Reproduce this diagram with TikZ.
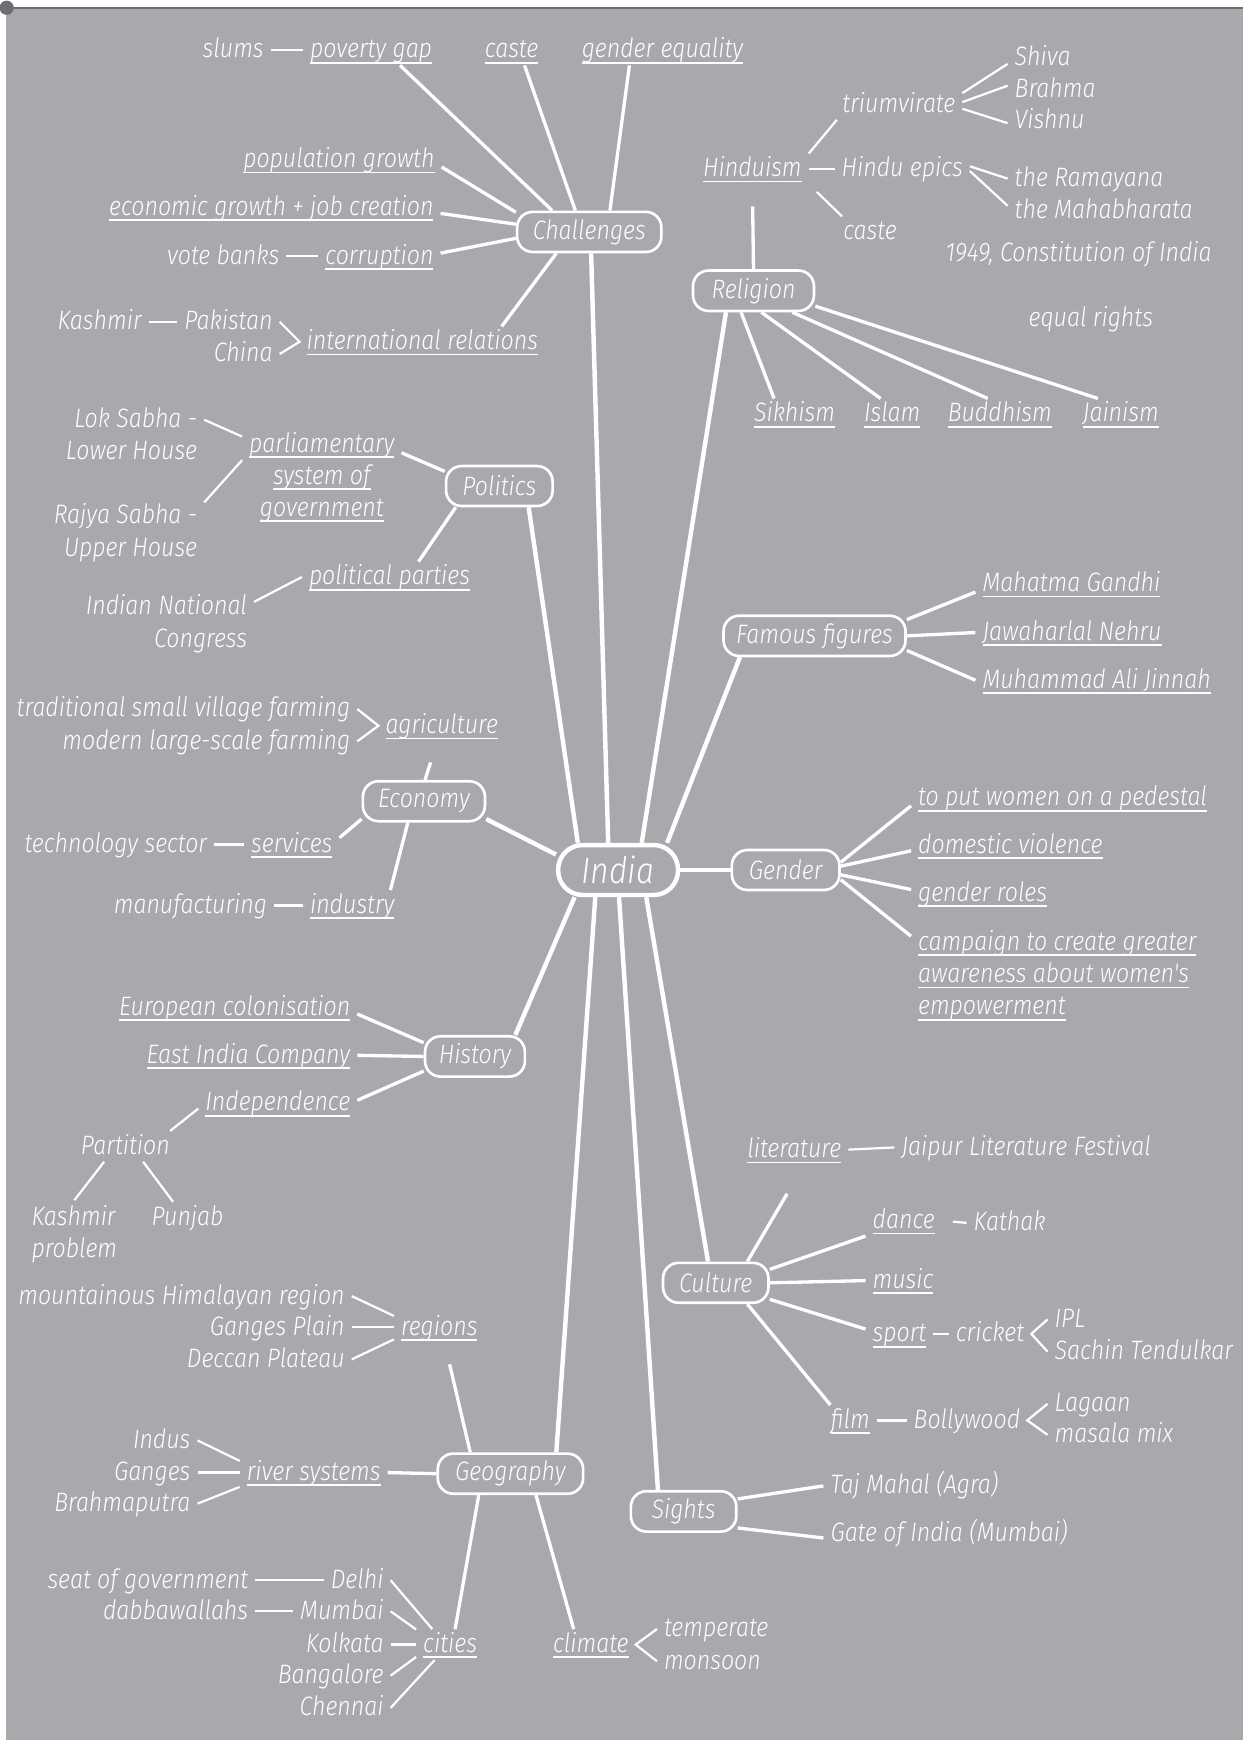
\documentclass[tikz,border=0pt]{standalone}
\usepackage{fontspec}
\IfFontExistsTF{Fira Sans Light Italic}
  {\newfontfamily\mapfam{Fira Sans Light Italic}[FakeStretch=0.87]\let\mapshape\relax}
  {\newfontfamily\mapfam{Fira Sans}[FakeStretch=0.87]\let\mapshape\itshape}
\newcommand\mapfont{\mapfam\mapshape\fontsize{12}{14.5}\selectfont}
\newcommand\hubfont{\mapfam\mapshape\fontsize{16.5}{19}\selectfont}
\newcommand\ulbox[1]{\setbox0=\hbox{#1}\rlap{\rule[-2.6pt]{\wd0}{0.8pt}}\box0}
\usepackage{tikz}
\definecolor{mapgrey}{RGB}{167,169,172}
\definecolor{edgegrey}{RGB}{109,110,113}

\begin{document}
\begin{tikzpicture}[
  x=0.5pt, y=-0.5pt,
  hub/.style={draw=white, line width=2pt, rounded corners=11pt, minimum width=54pt,
              minimum height=22.5pt, text=white, font=\hubfont},
  topic/.style={draw=white, line width=1.2pt, rounded corners=7pt, minimum height=18pt,
                text=white, font=\mapfont},
  leaf/.style={text=white, font=\mapfont, inner xsep=3pt, inner ysep=2pt,
               text height=8.3pt, text depth=1.2pt},
  leafml/.style={text=white, font=\mapfont, inner xsep=3pt, inner ysep=2pt},
  trunk/.style={draw=white, line width=2pt},
  twig/.style={draw=white, line width=1.5pt},
  tie/.style={draw=white, line width=1pt},
]
\useasboundingbox (0,0) rectangle (1120,1568);
\fill[white] (0,0) rectangle (1120,1568);
\fill[mapgrey] (5,7) rectangle (1120,1568);
\draw[edgegrey, line width=1pt] (0,7) -- (1120,7);
\fill[edgegrey] (6,7) circle (3.2pt);

% centre and main topics
\node[hub] (india) at (557,784) {India};
\node[topic, minimum width=65pt] (chal) at (531,209) {Challenges};
\node[topic, minimum width=54.5pt] (relig) at (679,262) {Religion};
\node[topic, minimum width=48pt] (polit) at (450,438) {Politics};
\node[topic, minimum width=82pt] (famous) at (734,573) {Famous figures};
\node[topic, minimum width=55pt] (econ) at (382,722) {Economy};
\node[topic, minimum width=48.5pt] (gender) at (708,784) {Gender};
\node[topic, minimum width=45pt] (hist) at (428,952) {History};
\node[topic, minimum width=47.5pt] (cult) at (645,1156) {Culture};
\node[topic, minimum width=65.5pt] (geog) at (460,1328) {Geography};
\node[topic, minimum width=47.5pt] (sights) at (616,1362) {Sights};

% challenges
\node[leaf, anchor=east] (slums) at (244,45) {slums};
\node[leaf, anchor=west] (povgap) at (273,45) {\ulbox{poverty gap}};
\node[leaf] (caste) at (461,45) {\ulbox{caste}};
\node[leaf] (geneq) at (597,45) {\ulbox{gender equality}};
\node[leaf, anchor=east] (popgrow) at (398,144) {\ulbox{population growth}};
\node[leaf, anchor=east] (econgrow) at (397,187) {\ulbox{economic growth + job creation}};
\node[leaf, anchor=east] (votebank) at (258,231) {vote banks};
\node[leaf, anchor=east] (corrupt) at (397,231) {\ulbox{corruption}};
\node[leaf, anchor=east] (kashmir) at (134,290) {Kashmir};
\node[leaf, anchor=east] (pakistan) at (252,290) {Pakistan};
\node[leaf, anchor=east] (china) at (252,319) {China};
\node[leaf, anchor=west] (intrel) at (270,308) {\ulbox{international relations}};

% religion
\node[leaf] (hindu) at (678,152) {\ulbox{Hinduism}};
\node[leaf] (trium) at (810,94) {triumvirate};
\node[leaf, anchor=west] (shiva) at (908,52) {Shiva};
\node[leaf, anchor=west] (brahma) at (908,81) {Brahma};
\node[leaf, anchor=west] (vishnu) at (908,109) {Vishnu};
\node[leaf] (epics) at (813,152) {Hindu epics};
\node[leaf, anchor=west] (rama) at (908,161) {the Ramayana};
\node[leaf, anchor=west] (maha) at (908,190) {the Mahabharata};
\node[leaf] (caste2) at (784,209) {caste};
\node[leaf] (constit) at (972,229) {1949, Constitution of India};
\node[leaf] (eqrights) at (983,287) {equal rights};
\node[leaf] (sikh) at (716,373) {\ulbox{Sikhism}};
\node[leaf] (islam) at (804,373) {\ulbox{Islam}};
\node[leaf] (bud) at (901,373) {\ulbox{Buddhism}};
\node[leaf] (jain) at (1010,373) {\ulbox{Jainism}};

% politics
\node[leafml, anchor=east, align=right] (lok) at (184,391) {Lok Sabha -\\Lower House};
\node[leafml, anchor=east, align=right] (rajya) at (184,480) {Rajya Sabha -\\Upper House};
\node[leafml, align=center] (parl) at (290,430)
  {\ulbox{parliamentary}\\\ulbox{system of}\\\ulbox{government}};
\node[leaf] (polpart) at (351,520) {\ulbox{political parties}};
\node[leafml, anchor=east, align=right] (inc) at (229,562) {Indian National\\Congress};

% economy
\node[leaf, anchor=east] (trad) at (322,639) {traditional small village farming};
\node[leaf, anchor=east] (modern) at (322,668) {modern large-scale farming};
\node[leaf, anchor=west] (agri) at (341,654) {\ulbox{agriculture}};
\node[leaf, anchor=east] (tech) at (193,761) {technology sector};
\node[leaf, anchor=west] (serv) at (220,761) {\ulbox{services}};
\node[leaf, anchor=east] (manuf) at (247,816) {manufacturing};
\node[leaf, anchor=west] (ind) at (273,816) {\ulbox{industry}};

% famous figures
\node[leaf, anchor=west] (gandhi) at (879,526) {\ulbox{Mahatma Gandhi}};
\node[leaf, anchor=west] (nehru) at (879,570) {\ulbox{Jawaharlal Nehru}};
\node[leaf, anchor=west] (jinnah) at (879,613) {\ulbox{Muhammad Ali Jinnah}};

% gender
\node[leaf, anchor=west] (ped) at (821,719) {\ulbox{to put women on a pedestal}};
\node[leaf, anchor=west] (dom) at (821,762) {\ulbox{domestic violence}};
\node[leaf, anchor=west] (roles) at (821,805) {\ulbox{gender roles}};
\node[leafml, anchor=west, align=left] (camp) at (821,879)
  {\ulbox{campaign to create greater}\\\ulbox{awareness about women's}\\\ulbox{empowerment}};

% history
\node[leaf, anchor=east] (euro) at (322,908) {\ulbox{European colonisation}};
\node[leaf, anchor=east] (eic) at (322,951) {\ulbox{East India Company}};
\node[leaf, anchor=east] (indep) at (322,994) {\ulbox{Independence}};
\node[leaf] (part) at (113,1033) {Partition};
\node[leafml, align=left] (kash2) at (67,1112) {Kashmir\\problem};
\node[leaf] (punjab) at (169,1097) {Punjab};

% geography
\node[leaf, anchor=east] (mount) at (317,1168) {mountainous Himalayan region};
\node[leaf, anchor=east] (gplain) at (317,1196) {Ganges Plain};
\node[leaf, anchor=east] (deccan) at (317,1225) {Deccan Plateau};
\node[leaf, anchor=west] (regions) at (355,1196) {\ulbox{regions}};
\node[leaf, anchor=east] (indus) at (178,1298) {Indus};
\node[leaf, anchor=east] (ganges) at (178,1327) {Ganges};
\node[leaf, anchor=east] (brahmap) at (178,1355) {Brahmaputra};
\node[leaf, anchor=west] (rivers) at (216,1327) {\ulbox{river systems}};
\node[leaf, anchor=east] (seat) at (230,1424) {seat of government};
\node[leaf, anchor=east] (delhi) at (352,1424) {Delhi};
\node[leaf, anchor=east] (dabba) at (230,1452) {dabbawallahs};
\node[leaf, anchor=east] (mumbai) at (352,1452) {Mumbai};
\node[leaf, anchor=east] (kolkata) at (352,1482) {Kolkata};
\node[leaf, anchor=east] (bangalore) at (352,1510) {Bangalore};
\node[leaf, anchor=east] (chennai) at (352,1539) {Chennai};
\node[leaf, anchor=west] (cities) at (375,1482) {\ulbox{cities}};
\node[leaf, anchor=west] (climate) at (492,1482) {\ulbox{climate}};
\node[leaf, anchor=west] (temperate) at (592,1468) {temperate};
\node[leaf, anchor=west] (monsoon) at (592,1497) {monsoon};

% culture
\node[leaf, anchor=west] (lit) at (667,1036) {\ulbox{literature}};
\node[leaf, anchor=west] (jaipur) at (806,1034) {Jaipur Literature Festival};
\node[leaf, anchor=west] (dance) at (780,1100) {\ulbox{dance}};
\node[leaf, anchor=west] (kathak) at (871,1102) {Kathak};
\node[leaf, anchor=west] (music) at (780,1154) {\ulbox{music}};
\node[leaf, anchor=west] (sport) at (780,1202) {\ulbox{sport}};
\node[leaf, anchor=west] (cricket) at (855,1202) {cricket};
\node[leaf, anchor=west] (ipl) at (944,1189) {IPL};
\node[leaf, anchor=west] (sachin) at (944,1218) {Sachin Tendulkar};
\node[leaf, anchor=west] (film) at (742,1280) {\ulbox{film}};
\node[leaf, anchor=west] (bolly) at (817,1280) {Bollywood};
\node[leaf, anchor=west] (lagaan) at (944,1265) {Lagaan};
\node[leaf, anchor=west] (masala) at (944,1293) {masala mix};

% sights
\node[leaf, anchor=west] (taj) at (742,1339) {Taj Mahal (Agra)};
\node[leaf, anchor=west] (gate) at (742,1382) {Gate of India (Mumbai)};

% links from the centre
\draw[trunk] (india.110) -- (chal.275);
\draw[trunk] (india.49) -- (relig.218);
\draw[trunk] (india.146) -- (polit.324);
\draw[trunk] (india.29) -- (famous.196);
\draw[trunk] (india.166) -- (econ.344);
\draw[trunk] (india.east) -- (gender.west);
\draw[trunk] (india.212) -- (hist.28);
\draw[trunk] (india.230) -- (geog.25);
\draw[trunk] (india.272) -- (sights.140);
\draw[trunk] (india.316) -- (cult.110);

% challenges
\draw[twig] (chal.150) -- (povgap.332);
\draw[twig] (chal.123) -- (caste.310);
\draw[twig] (chal.46) -- (geneq.205);
\draw[twig] (chal.165) -- (popgrow.356);
\draw[twig] (chal.174) -- (econgrow.358);
\draw[twig] (chal.185) -- (corrupt.3);
\draw[twig] (chal.213) -- (intrel.11);
\draw[tie] (slums.east) -- (povgap.west);
\draw[tie] (votebank.east) -- (corrupt.west);
\draw[tie] (kashmir.east) -- (pakistan.west);
\draw[tie] (pakistan.east) -- (intrel.west) -- (china.east);

% religion
\draw[twig, shorten >=10pt] (relig.north) -- (hindu.south);
\draw[twig] (relig.240) -- (sikh.143);
\draw[twig] (relig.290) -- (islam.127);
\draw[twig] (relig.331) -- (bud.128);
\draw[twig] (relig.346) -- (jain.146);
\draw[tie] (hindu.15) -- (trium.194);
\draw[tie] (hindu.east) -- (epics.west);
\draw[tie, shorten <=5pt] (hindu.south east) -- (caste2.151);
\draw[tie] (trium.10) -- (shiva.190);
\draw[tie] (trium.2) -- (brahma.175);
\draw[tie] (trium.356) -- (vishnu.183);
\draw[tie] (epics.2) -- (rama.west);
\draw[tie] (epics.358) -- (maha.177);

% politics
\draw[twig] (polit.165) -- (parl.17);
\draw[twig] (polit.206) -- (polpart.28);
\draw[tie] (lok.11) -- (parl.153);
\draw[tie] (rajya.21) -- (parl.168);
\draw[tie] (inc.14) -- (polpart.west);

% economy
\draw[twig, shorten >=10pt] (econ.87) -- (agri.254);
\draw[twig] (econ.196) -- (serv.8);
\draw[twig] (econ.233) -- (ind.22);
\draw[tie] (trad.east) -- (agri.west) -- (modern.east);
\draw[tie] (tech.east) -- (serv.west);
\draw[tie] (manuf.east) -- (ind.west);

% famous figures
\draw[twig] (famous.10) -- (gandhi.185);
\draw[twig] (famous.east) -- (nehru.west);
\draw[twig] (famous.351) -- (jinnah.west);

% gender
\draw[twig] (gender.8) -- (ped.183);
\draw[twig] (gender.4) -- (dom.183);
\draw[twig] (gender.355) -- (roles.177);
\draw[twig] (gender.350) -- (camp.165);

% history
\draw[twig] (hist.165) -- (euro.357);
\draw[twig] (hist.west) -- (eic.east);
\draw[twig] (hist.196) -- (indep.2);
\draw[tie] (indep.184) -- (part.19);
\draw[tie] (part.216) -- (kash2.north);
\draw[tie] (part.319) -- (punjab.133);

% geography
\draw[twig, shorten >=10pt] (geog.152) -- (regions.289);
\draw[twig] (geog.west) -- (rivers.east);
\draw[twig] (geog.214) -- (cities.72);
\draw[twig] (geog.320) -- (climate.138);
\draw[tie] (mount.east) -- (regions.166);
\draw[tie] (gplain.east) -- (regions.west);
\draw[tie] (deccan.east) -- (regions.195);
\draw[tie] (indus.east) -- (rivers.171);
\draw[tie] (ganges.east) -- (rivers.west);
\draw[tie] (brahmap.east) -- (rivers.191);
\draw[tie] (seat.east) -- (delhi.west);
\draw[tie] (dabba.east) -- (mumbai.west);
\draw[tie] (delhi.east) -- (cities.139);
\draw[tie] (mumbai.east) -- (cities.156);
\draw[tie] (kolkata.east) -- (cities.west);
\draw[tie] (bangalore.east) -- (cities.200);
\draw[tie] (chennai.east) -- (cities.225);
\draw[tie] (temperate.west) -- (climate.east) -- (monsoon.west);

% culture
\draw[twig, shorten >=15pt] (cult.34) -- (lit.302);
\draw[twig] (cult.14) -- (dance.202);
\draw[twig] (cult.east) -- (music.west);
\draw[twig] (cult.343) -- (sport.172);
\draw[twig] (cult.326) -- (film.142);
\draw[tie] (lit.east) -- (jaipur.west);
\draw[tie, shorten <=5pt] (dance.east) -- (kathak.west);
\draw[tie] (sport.east) -- (cricket.west);
\draw[tie] (ipl.west) -- (cricket.east) -- (sachin.west);
\draw[tie] (film.east) -- (bolly.west);
\draw[tie] (lagaan.west) -- (bolly.east) -- (masala.west);

% sights
\draw[twig] (sights.13) -- (taj.west);
\draw[twig] (sights.343) -- (gate.182);
\end{tikzpicture}
\end{document}
